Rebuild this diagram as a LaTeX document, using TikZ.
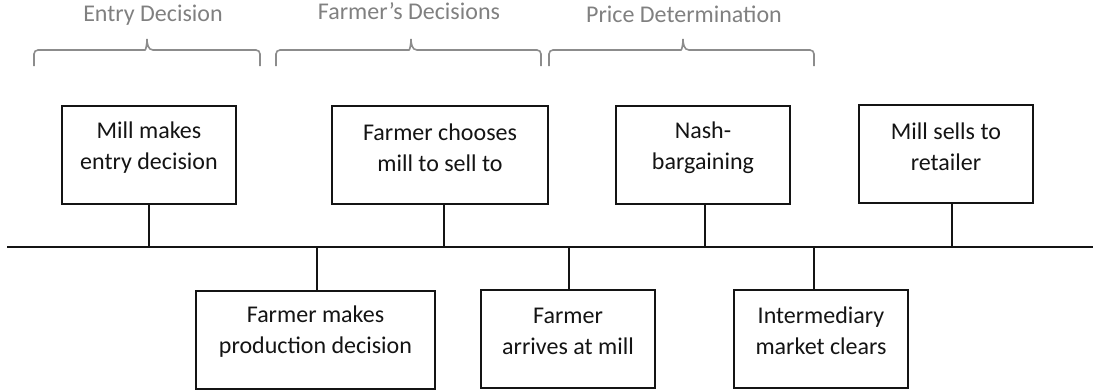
\documentclass[tikz,border=0pt]{standalone}
\usepackage{fontspec}
\setmainfont{Carlito}
\definecolor{bracegray}{RGB}{140,140,140}
\definecolor{labelgray}{RGB}{128,128,128}
\definecolor{inkblack}{RGB}{20,20,20}
\tikzset{
  evtbox/.style={draw=inkblack, line width=2pt, fill=white, inner sep=0pt},
  evttext/.style={align=center, inner sep=0pt, text=inkblack,
    font=\fontsize{24}{31}\selectfont},
  stem/.style={draw=inkblack, line width=1.6pt},
  timeline/.style={draw=inkblack, line width=2pt},
  bracepath/.style={draw=bracegray, line width=1.6pt, rounded corners=4pt},
  phaselabel/.style={text=labelgray, inner sep=0pt,
    font=\fontsize{24}{28}\selectfont}
}
\begin{document}
\begin{tikzpicture}[x=1pt, y=-1pt]
\useasboundingbox (0,0) rectangle (1093,391);

% phase labels
\node[phaselabel] (lab1) at (153,15) {Entry Decision};
\node[phaselabel] (lab2) at (409,11) {Farmer’s Decisions};
\node[phaselabel] (lab3) at (684,14) {Price Determination};

% braces under the phase labels
\draw[bracepath] (34,66) -- (34,50) -- (141,50)
  [rounded corners=0pt] to[out=0,in=-90] (147,39) to[out=-90,in=180] (153,50)
  [rounded corners=4pt] -- (260,50) -- (260,66);
\draw[bracepath] (276,66) -- (276,50) -- (405,50)
  [rounded corners=0pt] to[out=0,in=-90] (411,39) to[out=-90,in=180] (417,50)
  [rounded corners=4pt] -- (541,50) -- (541,66);
\draw[bracepath] (549,66) -- (549,50) -- (677,50)
  [rounded corners=0pt] to[out=0,in=-90] (683,39) to[out=-90,in=180] (689,50)
  [rounded corners=4pt] -- (814,50) -- (814,66);

% timeline
\coordinate (tlL) at (7,247);
\coordinate (tlR) at (1093,247);
\draw[timeline] (tlL) -- (tlR);

% events above the timeline
\node[evtbox, minimum width=174pt, minimum height=98pt] (e1) at (149,155) {};
\node[evttext] (e1t) at ([yshift=7pt]e1.center) {Mill makes\\entry decision};
\node[evtbox, minimum width=216pt, minimum height=98pt] (e3) at (440,155) {};
\node[evttext] (e3t) at ([yshift=7pt]e3.center) {Farmer chooses\\mill to sell to};
\node[evtbox, minimum width=174pt, minimum height=98pt] (e5) at (703,155) {};
\node[evttext] (e5t) at ([yshift=7pt]e5.center) {Nash-\\bargaining};
\node[evtbox, minimum width=174pt, minimum height=98pt] (e7) at (946,154) {};
\node[evttext] (e7t) at ([yshift=7pt]e7.center) {Mill sells to\\retailer};

% events below the timeline
\node[evtbox, minimum width=239pt, minimum height=98pt] (e2) at (315.5,340) {};
\node[evttext] (e2t) at ([yshift=8pt]e2.center) {Farmer makes\\production decision};
\node[evtbox, minimum width=174pt, minimum height=98pt] (e4) at (568,339) {};
\node[evttext] (e4t) at ([yshift=8pt]e4.center) {Farmer\\arrives at mill};
\node[evtbox, minimum width=174pt, minimum height=98pt] (e6) at (821,339) {};
\node[evttext] (e6t) at ([yshift=8pt]e6.center) {Intermediary\\market clears};

% stems joining each event to the timeline
\coordinate (s1) at (149,247);
\coordinate (s2) at (317,247);
\coordinate (s3) at (444,247);
\coordinate (s4) at (569,247);
\coordinate (s5) at (705,247);
\coordinate (s6) at (814,247);
\coordinate (s7) at (952,247);
\draw[stem] (s1) -- (s1 |- e1.south);
\draw[stem] (s3) -- (s3 |- e3.south);
\draw[stem] (s5) -- (s5 |- e5.south);
\draw[stem] (s7) -- (s7 |- e7.south);
\draw[stem] (s2) -- (s2 |- e2.north);
\draw[stem] (s4) -- (s4 |- e4.north);
\draw[stem] (s6) -- (s6 |- e6.north);
\end{tikzpicture}
\end{document}
